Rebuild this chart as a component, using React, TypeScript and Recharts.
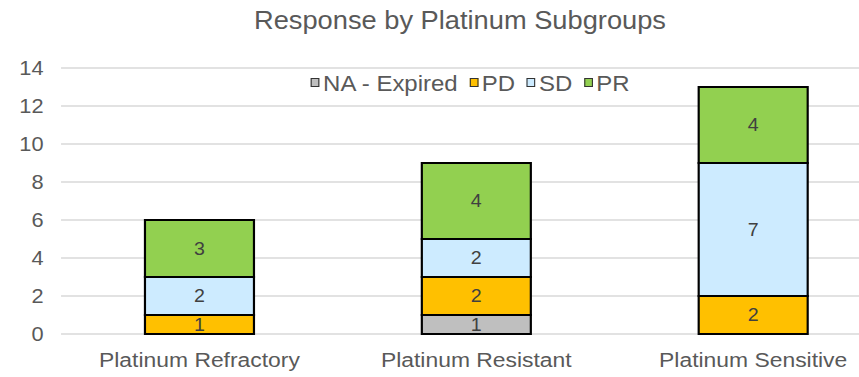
import React from 'react';
import { BarChart, Bar, XAxis, YAxis, CartesianGrid, Legend, LabelList } from 'recharts';

const categories = ['Platinum Refractory', 'Platinum Resistant', 'Platinum Sensitive'];
const naExpired = [0, 1, 0];
const pd = [1, 2, 2];
const sd = [2, 2, 7];
const pr = [3, 4, 4];
const yTicks = [0, 2, 4, 6, 8, 10, 12, 14];

const SERIES = [
  { key: 'na', name: 'NA - Expired', color: '#BFBFBF' },
  { key: 'pd', name: 'PD', color: '#FFC000' },
  { key: 'sd', name: 'SD', color: '#CDEBFF' },
  { key: 'pr', name: 'PR', color: '#92D050' },
];

const data = categories.map((name, i) => ({
  name,
  na: naExpired[i],
  pd: pd[i],
  sd: sd[i],
  pr: pr[i],
}));

// the source image is a bit wider than tall, so the whole chart is stretched horizontally
const STRETCH = 1.09;
const W = 818;
const H = 377;
const FONT = '"Liberation Sans", Arial, sans-serif';

const LegendBox = () => (
  <div
    style={{
      display: 'flex',
      justifyContent: 'center',
      alignItems: 'center',
      marginLeft: 56,
      fontFamily: FONT,
      fontSize: 22,
      lineHeight: '22px',
      color: '#595959',
    }}
  >
    {SERIES.map((s) => (
      <div key={s.key} style={{ display: 'flex', alignItems: 'center', marginRight: 11 }}>
        <span
          style={{
            display: 'inline-block',
            width: 6,
            height: 7,
            background: s.color,
            border: '1px solid #333',
            marginRight: 3,
            transform: 'translateY(-2px)',
          }}
        />
        <span>{s.name}</span>
      </div>
    ))}
  </div>
);

export default function App() {
  return (
    <div style={{ position: 'absolute', left: 0, top: 0, width: 859, height: H, overflow: 'hidden', background: '#fff' }}>
      <div style={{ position: 'relative', width: W, height: H, transform: `scaleX(${STRETCH})`, transformOrigin: '0 0' }}>
        <div
          style={{
            position: 'absolute',
            left: 0,
            top: 8,
            width: 844,
            textAlign: 'center',
            fontFamily: FONT,
            fontSize: 25,
            lineHeight: '25px',
            color: '#595959',
            zIndex: 2,
          }}
        >
          Response by Platinum Subgroups
        </div>
        <BarChart width={W} height={H} data={data} margin={{ top: 68, right: 0, left: 0, bottom: 0 }}>
          <CartesianGrid vertical={false} stroke="#D9D9D9" strokeWidth={1.5} />
          <XAxis
            dataKey="name"
            axisLine={false}
            tickLine={false}
            tickSize={0}
            tickMargin={18}
            height={43}
            interval={0}
            tick={{ fontSize: 21, fill: '#595959', fontFamily: FONT }}
          />
          <YAxis
            domain={[0, 14]}
            ticks={yTicks}
            axisLine={false}
            tickLine={false}
            tickSize={0}
            tickMargin={16}
            width={56}
            tick={{ fontSize: 20, fill: '#595959', fontFamily: FONT }}
          />
          <Legend
            layout="horizontal"
            verticalAlign="middle"
            align="center"
            wrapperStyle={{ top: 73, left: 0, width: W }}
            content={() => <LegendBox />}
          />
          {SERIES.map((s) => (
            <Bar
              key={s.key}
              dataKey={s.key}
              name={s.name}
              stackId="a"
              fill={s.color}
              stroke="#000"
              strokeWidth={2}
              barSize={100}
              isAnimationActive={false}
            >
              <LabelList
                dataKey={s.key}
                position="center"
                formatter={(v: any) => (v ? v : '')}
                style={{ fontSize: 18, fill: '#404040', fontFamily: FONT }}
              />
            </Bar>
          ))}
        </BarChart>
      </div>
    </div>
  );
}
